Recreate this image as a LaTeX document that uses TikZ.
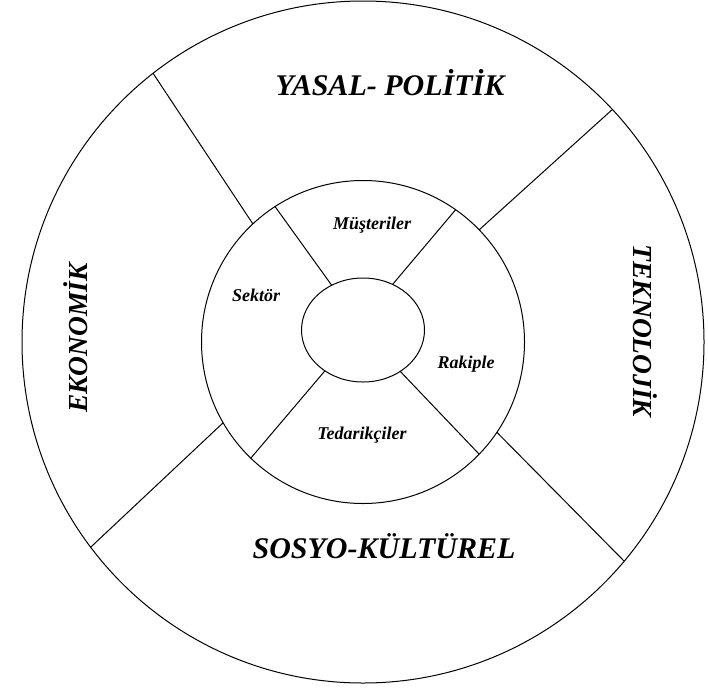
\documentclass[tikz,border=0pt]{standalone}
\usepackage{fontspec}
\setmainfont{Liberation Serif}
\usetikzlibrary{shapes.geometric}
\tikzset{
  ring/.style={draw, circle, line width=1pt, inner sep=0pt, outer sep=0pt},
  sectorline/.style={line width=1pt},
  pestlabel/.style={font=\fontsize{30}{32}\selectfont\bfseries\itshape},
  sidelabel/.style={font=\fontsize{27.5}{30}\selectfont\bfseries\itshape},
  forcelabel/.style={font=\fontsize{18}{20}\selectfont\bfseries\itshape},
}
\begin{document}
\begin{tikzpicture}[x=1pt, y=-1pt]
  \useasboundingbox (0,0) rectangle (708,688);
  % rings
  \node[ring, minimum size=682pt] (outer) at (363,342) {};
  \node[ring, minimum size=323pt] (middle) at (363,342) {};
  \node[ring, ellipse, minimum width=123pt, minimum height=104pt] (core) at (363,330) {};
  % outer sectors
  \draw[sectorline] (middle.133) -- (outer.128);
  \draw[sectorline] (middle.44) -- (outer.43);
  \draw[sectorline] (middle.210) -- (outer.217);
  \draw[sectorline] (middle.326) -- (outer.320);
  % inner sectors
  \draw[sectorline] (core.125) -- (middle.123);
  \draw[sectorline] (core.57) -- (middle.55);
  \draw[sectorline] (core.227) -- (middle.226);
  \draw[sectorline] (core.312) -- (middle.316);
  % macro environment
  \node[pestlabel] (yasal) at (390,83) {YASAL- POLİTİK};
  \node[pestlabel] (sosyo) at (384,546) {SOSYO-KÜLTÜREL};
  \node[sidelabel, rotate=90] (ekonomik) at (76,338) {EKONOMİK};
  \node[sidelabel, rotate=-90] (tekno) at (645,331) {TEKNOLOJİK};
  % sector environment
  \node[forcelabel] (musteri) at (372,225) {Müşteriler};
  \node[forcelabel] (sektor) at (256,295) {Sektör};
  \node[forcelabel] (rakip) at (466,364) {Rakiple};
  \node[forcelabel] (tedarik) at (362,435) {Tedarikçiler};
\end{tikzpicture}
\end{document}
